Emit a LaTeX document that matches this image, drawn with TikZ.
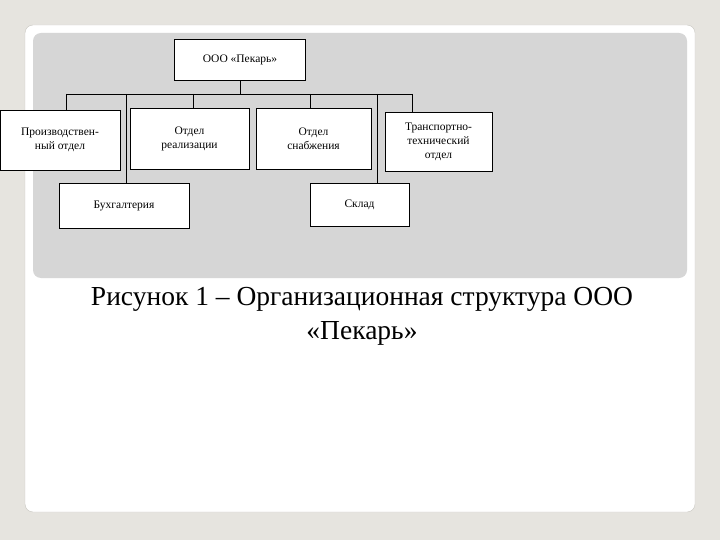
\documentclass[tikz,border=0pt]{standalone}
\usepackage{fontspec}
\setmainfont{Liberation Serif}
\definecolor{pagebg}{HTML}{E6E4DF}
\definecolor{panel}{HTML}{D6D6D6}
\definecolor{framec}{HTML}{C8C6C0}
\begin{document}
\begin{tikzpicture}[x=1pt,y=-1pt,
  box/.style={draw=black,fill=white,line width=0.6pt,align=center,font=\fontsize{11.5}{14}\selectfont,inner sep=0pt},
  conn/.style={line width=0.7pt}]
\useasboundingbox (0,0) rectangle (720,540);
\fill[pagebg] (0,0) rectangle (720,540);
\fill[white,draw=framec,rounded corners=8] (25,25) rectangle (695,512);
\fill[panel,rounded corners=8] (33,33) rectangle (687,278);
\node[box,minimum width=131,minimum height=41] (top) at (240,59.5) {ООО «Пекарь»};
\node[box,minimum width=120,minimum height=60] (pr) at (60,140) {Производствен-\\ный отдел};
\node[box,minimum width=119,minimum height=61] (re) at (189.5,138.5) {Отдел\\реализации};
\node[box,minimum width=115,minimum height=61] (sn) at (313.5,138.5) {Отдел\\снабжения};
\node[box,minimum width=107,minimum height=59] (tr) at (438.5,141.5) {Транспортно-\\технический\\отдел};
\node[box,minimum width=130,minimum height=45] (bu) at (124,205.5) {Бухгалтерия};
\node[box,minimum width=99,minimum height=43,anchor=north] (sk) at (359.5,183) {\strut Склад};
\coordinate (bl) at (66,94);
\coordinate (br) at (412,94);
\draw[conn] (top.south) -- (240,94);
\draw[conn] (bl) -- (br);
\draw[conn] (bl) -- (66,110);
\draw[conn] (193,94) -- (193,108);
\draw[conn] (310,94) -- (310,108);
\draw[conn] (br) -- (412,112);
\draw[conn] (126,94) -- (126,183);
\draw[conn] (377,94) -- (377,183);
\node[font=\fontsize{27.5}{34}\selectfont,align=center] (cap) at (362,316) {Рисунок 1 – Организационная структура ООО\\«Пекарь»};
\end{tikzpicture}
\end{document}
